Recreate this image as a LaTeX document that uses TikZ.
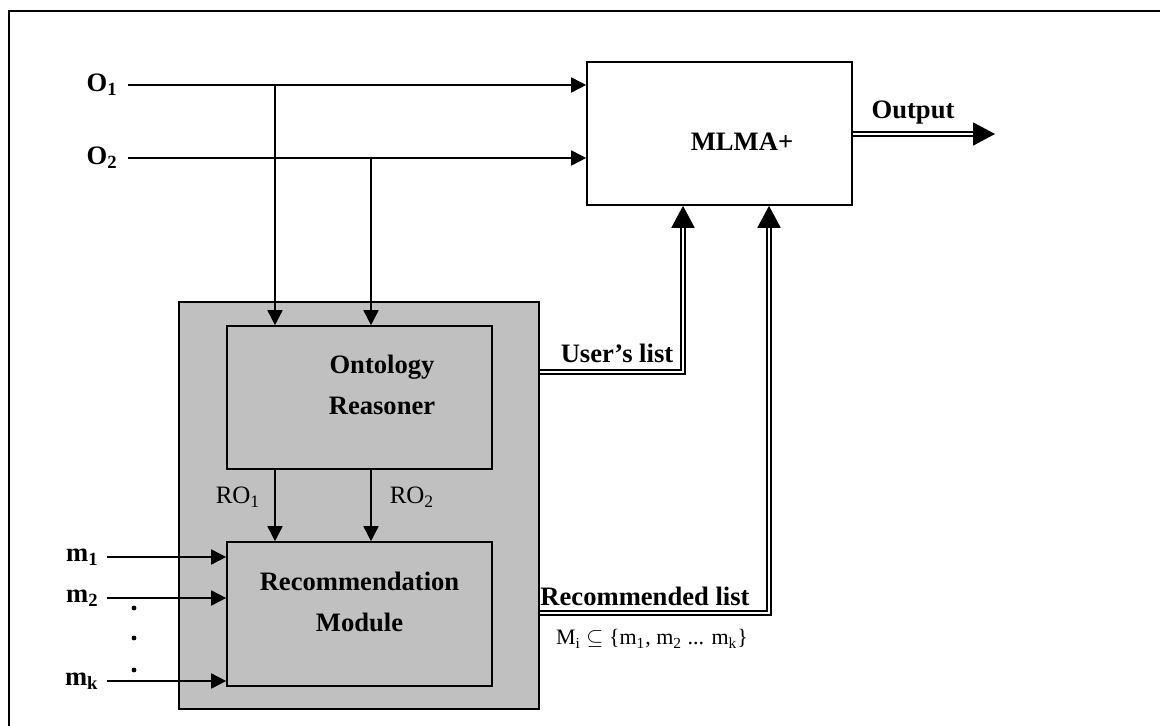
\documentclass[tikz,border=0pt]{standalone}
\usepackage{fontspec}
\setmainfont{Liberation Serif}
\usetikzlibrary{arrows.meta,positioning}
\definecolor{shade}{RGB}{192,192,192}

\tikzset{
  box/.style={draw, line width=0.8pt, minimum width=132.5pt, minimum height=71.5pt, inner sep=0pt},
  arr/.style={line width=0.8pt, -{Triangle[length=7.5pt,width=7.5pt]}},
  dbl/.style={double, line width=0.9pt, double distance=1.1pt, -{Triangle[length=11pt,width=11.5pt]}},
  lbl/.style={font=\fontsize{13.3}{20.5}\selectfont\bfseries, align=center},
  ro/.style={font=\fontsize{12.5}{15}\selectfont},
}

\begin{document}
\begin{tikzpicture}[x=0.5pt,y=-0.5pt]
\useasboundingbox (0,0) rectangle (1160,726);
\draw[line width=1pt] (9,726) -- (9,11) -- (1160,11);

% boxes
\node[box, fill=shade, minimum width=180pt, minimum height=203.5pt] (core) at (359,505.5) {};
\node[box, fill=shade] (onto) at (359.5,397.5) {};
\node[lbl] (ontotext) at ([xshift=11.25pt,yshift=6.5pt]onto.center) {Ontology\\Reasoner};
\node[box, fill=shade, minimum height=72pt] (rec) at (359.5,614) {};
\node[lbl] (rectext) at ([yshift=6pt]rec.center) {Recommendation\\Module};
\node[box, fill=white] (mlma) at (719.5,133.5) {};
\node[lbl] (mlmatext) at ([xshift=11.25pt,yshift=-4.25pt]mlma.center) {MLMA+};

% inputs
\node[lbl, anchor=east, inner sep=5pt] (o1) at (128,85) {O\textsubscript{1}};
\node[lbl, anchor=east, inner sep=5pt] (o2) at (128,158) {O\textsubscript{2}};
\coordinate (j1) at (275,85);
\coordinate (j2) at (371,158);
\draw[arr] (o1.east) -- (o1.east -| mlma.west);
\draw[arr] (o2.east) -- (o2.east -| mlma.west);
\draw[arr] (j1) -- (j1 |- onto.north);
\draw[arr] (j2) -- (j2 |- onto.north);

\draw[arr] (onto.south -| j1) -- (rec.north -| j1);
\draw[arr] (onto.south -| j2) -- (rec.north -| j2);
\node[ro] (ro1) at (238,497) {RO\textsubscript{1}};
\node[ro] (ro2) at (412,497) {RO\textsubscript{2}};

\node[lbl, anchor=east, inner sep=4pt] (m1) at (107,557) {m\textsubscript{1}};
\node[lbl, anchor=east, inner sep=4pt] (m2) at (107,598) {m\textsubscript{2}};
\node[lbl, anchor=east, inner sep=4pt] (mk) at (107,681) {m\textsubscript{k}};
\foreach \m in {m1,m2,mk}
  \draw[arr] (\m.east) -- (\m.east -| rec.west);
\foreach \y in {608,638,670}
  \fill (134,\y) circle (1.2pt);

% lists and output
\coordinate (ul) at (683,372);
\coordinate (rl) at (769,613);
\coordinate (out) at (995,134);
\draw[dbl] (core.east |- ul) -- (ul) -- (ul |- mlma.south);
\draw[dbl] (core.east |- rl) -- (rl) -- (rl |- mlma.south);
\draw[dbl] (mlma.east |- out) -- (out);
\node[lbl] (userlbl) at (617,353) {User’s list};
\node[lbl] (reclbl) at (645,596) {Recommended list};
\node[font=\fontsize{11}{13}\selectfont] (mset) at (652,639) {M\textsubscript{i} $\subseteq$ \{m\textsubscript{1}, m\textsubscript{2} ... m\textsubscript{k}\}};
\node[lbl] (outlbl) at (913,113) {Output};
\end{tikzpicture}
\end{document}
